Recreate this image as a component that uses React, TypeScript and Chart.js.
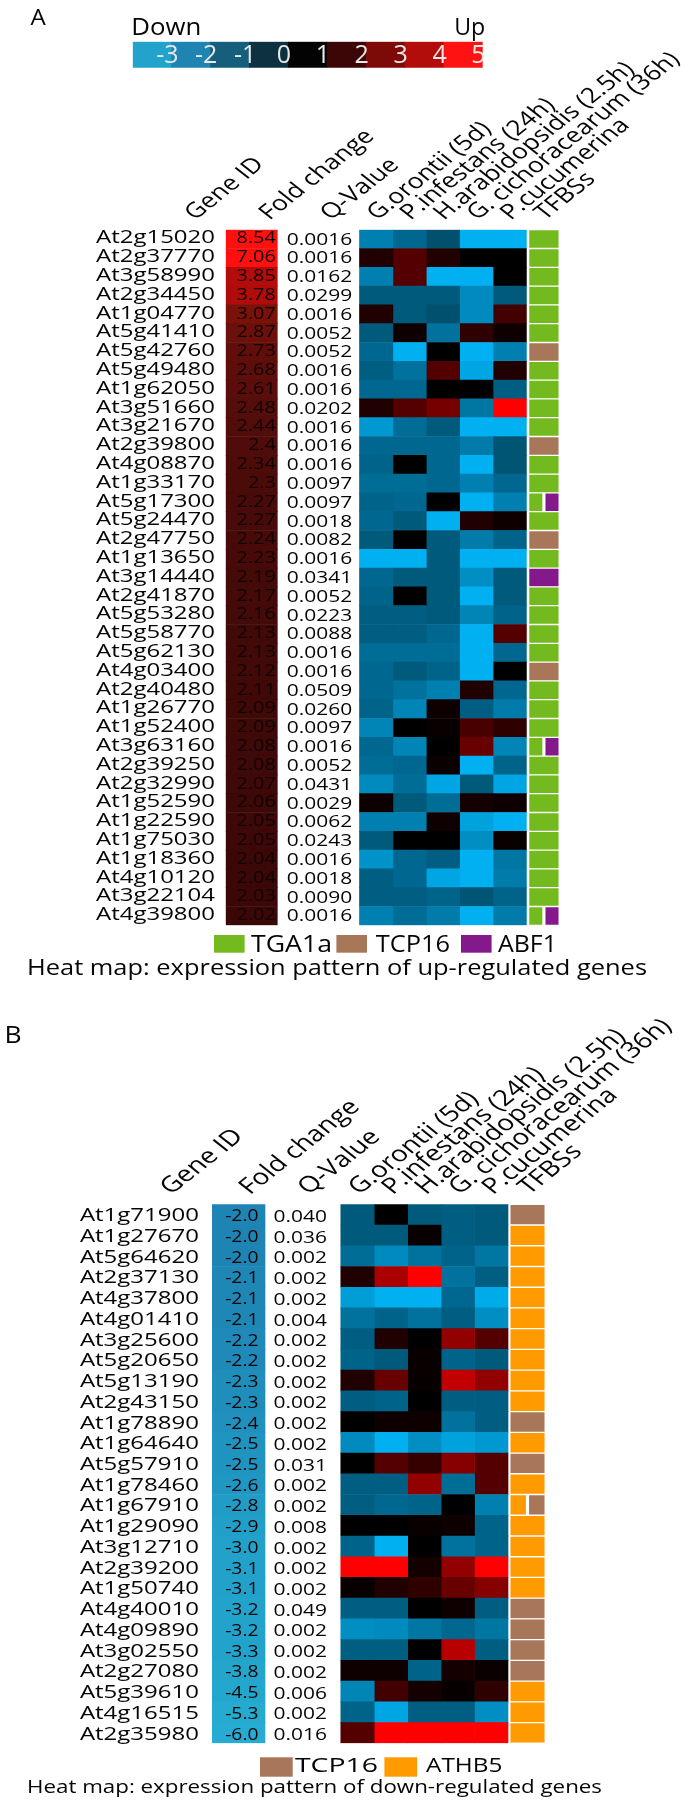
import React, { useEffect, useRef } from 'react';
import { Chart, registerables } from 'chart.js';
Chart.register(...registerables);

const W = 685;
const H = 1804;
const FONT = '"Open Sans", "Noto Sans", sans-serif';
const INK = '#050505';

// ---------------- colour bar ----------------
const colorbarTicks = [-3, -2, -1, 0, 1, 2, 3, 4, 5];
const colorbarColors = ['#22a3cc', '#1e85b2', '#155f7c', '#0e3140', '#030303', '#3c0506', '#7e0a08', '#b20d0b', '#ff1212'];

// ---------------- shared ----------------
const conditions = ['G.orontii (5d)', 'P.infestans (24h)', 'H.arabidopsidis (2.5h)', 'G. cichoracearum (36h)', 'P.cucumerina'];
const motifNames: Record<string, string> = { G: 'TGA1a', T: 'TCP16', A: 'ABF1', O: 'ATHB5' };
const motifColors: Record<string, string> = { TGA1a: '#72ba1e', TCP16: '#a8775a', ABF1: '#84198c', ATHB5: '#ff9a00' };

// ---------------- panel A : up-regulated ----------------
const genesA = ['At2g15020', 'At2g37770', 'At3g58990', 'At2g34450', 'At1g04770', 'At5g41410', 'At5g42760', 'At5g49480', 'At1g62050', 'At3g51660', 'At3g21670', 'At2g39800', 'At4g08870', 'At1g33170', 'At5g17300', 'At5g24470', 'At2g47750', 'At1g13650', 'At3g14440', 'At2g41870', 'At5g53280', 'At5g58770', 'At5g62130', 'At4g03400', 'At2g40480', 'At1g26770', 'At1g52400', 'At3g63160', 'At2g39250', 'At2g32990', 'At1g52590', 'At1g22590', 'At1g75030', 'At1g18360', 'At4g10120', 'At3g22104', 'At4g39800'];
const foldA = [8.54, 7.06, 3.85, 3.78, 3.07, 2.87, 2.73, 2.68, 2.61, 2.48, 2.44, 2.4, 2.34, 2.3, 2.27, 2.27, 2.24, 2.23, 2.19, 2.17, 2.16, 2.13, 2.13, 2.12, 2.11, 2.09, 2.09, 2.08, 2.08, 2.07, 2.06, 2.05, 2.05, 2.04, 2.04, 2.03, 2.02];
const qA = [0.0016, 0.0016, 0.0162, 0.0299, 0.0016, 0.0052, 0.0052, 0.0016, 0.0016, 0.0202, 0.0016, 0.0016, 0.0016, 0.0097, 0.0097, 0.0018, 0.0082, 0.0016, 0.0341, 0.0052, 0.0223, 0.0088, 0.0016, 0.0016, 0.0509, 0.0260, 0.0097, 0.0016, 0.0052, 0.0431, 0.0029, 0.0062, 0.0243, 0.0016, 0.0018, 0.0090, 0.0016];
const goA = [-2, 1, -2, -1.2, 1, -1.2, -1.5, -1.3, -1.5, 1, -2.5, -1.5, -1.4, -1.6, -1.4, -1.5, -1.2, -3, -1.5, -1.4, -1.3, -1.3, -1.6, -1.5, -1.5, -1.4, -2.1, -1.5, -1.6, -2.2, 0.5, -2, -1.2, -2.4, -1.3, -1.3, -2];
const piA = [-1.5, 2, 2, -1.2, -1.2, 0.5, -3, -1.7, -1.5, 2, -1.6, -1.5, 0, -1.6, -1.5, -1.2, 0, -3, -1.2, 0, -1.3, -1.3, -1.6, -1.2, -1.7, -2.1, 0, -2.1, -1.5, -1.6, -1.2, -2, 0, -1.5, -1.5, -1.3, -1.6];
const haA = [-1, 1, -3, -1.2, -1, -1.7, 0, 2, 0, 2.7, -1.2, -1.5, -1.5, -1.5, 0, -3, -1.2, -1.2, -1.2, -1.2, -1.2, -1.5, -1.6, -1.4, -2, 0.5, 0.3, 0, 0.4, -2.8, -1.6, 0.5, 0, -1.3, -2.8, -1.4, -1.9];
const gcA = [-3, 0, -3, -2.2, -2.2, 1.3, -3, -2.8, 0, -1.8, -3, -1.9, -3, -2, -3, 1, -1.9, -3, -2.3, -3, -2.1, -3, -3, -3, 1, -1.3, 1.8, 2.5, -3, -1.2, 0.7, -2.7, -2.3, -3, -3, -1.1, -3];
const pcA = [-3, 0, 0, -1.2, 1.7, 0.5, -2, 1, -1.3, 5, -3, -1.1, -1.1, -1.5, -2, 0.5, -1.4, -3, -1.2, -1.2, -1.4, 2, -1.5, 0, -1.5, -1.9, 1.3, -2.1, -1.4, -2.8, 0.5, -3, 0.4, -1.8, -1.9, -1.4, -1.9];
const tfbsA = ['G', 'G', 'G', 'G', 'G', 'G', 'T', 'G', 'G', 'G', 'G', 'T', 'G', 'G', 'GA', 'G', 'T', 'G', 'A', 'G', 'G', 'G', 'G', 'T', 'G', 'G', 'G', 'GA', 'G', 'G', 'G', 'G', 'G', 'G', 'G', 'G', 'GA'];
const legendA = ['TGA1a', 'TCP16', 'ABF1'];
const captionA = 'Heat map: expression pattern of up-regulated genes';

// ---------------- panel B : down-regulated ----------------
const genesB = ['At1g71900', 'At1g27670', 'At5g64620', 'At2g37130', 'At4g37800', 'At4g01410', 'At3g25600', 'At5g20650', 'At5g13190', 'At2g43150', 'At1g78890', 'At1g64640', 'At5g57910', 'At1g78460', 'At1g67910', 'At1g29090', 'At3g12710', 'At2g39200', 'At1g50740', 'At4g40010', 'At4g09890', 'At3g02550', 'At2g27080', 'At5g39610', 'At4g16515', 'At2g35980'];
const foldB = [-2.0, -2.0, -2.0, -2.1, -2.1, -2.1, -2.2, -2.2, -2.3, -2.3, -2.4, -2.5, -2.5, -2.6, -2.8, -2.9, -3.0, -3.1, -3.1, -3.2, -3.2, -3.3, -3.8, -4.5, -5.3, -6.0];
const qB = [0.040, 0.036, 0.002, 0.002, 0.002, 0.004, 0.002, 0.002, 0.002, 0.002, 0.002, 0.002, 0.031, 0.002, 0.002, 0.008, 0.002, 0.002, 0.002, 0.049, 0.002, 0.002, 0.002, 0.006, 0.002, 0.016];
const goB = [-1.2, -1.2, -1.6, 1, -2.6, -1.7, -1.3, -1.4, 1, -1.3, 0, -2.2, 0, -1.3, -1.3, 0, -1.4, 5, 0.3, -1.3, -2.3, -1.3, 0.5, -2.1, -1.4, 2];
const piB = [0, -1.2, -2.2, 3.6, -3, -1.4, 1, -1.2, 2.5, -1.4, 0.5, -3, 2, -1.3, -1.5, 0, -3, 5, 1, -1.3, -2.2, -1.3, 0.5, 1.7, -2.8, 5];
const haB = [-1.2, 0.3, -1.7, 5, -3, -1.7, 0, 0.3, 0.3, 0, 0.5, -2.3, 1.5, 3.2, -1.4, 0.3, 0, 0.7, 1.3, 0, -1.8, 0, -1.4, 0.7, -1.3, 5];
const gcB = [-1.3, -1.3, -1.4, -1.7, -1.5, -1.3, 3.2, -1.4, 4, -1.3, -1.7, -2.7, 3, -1.6, 0, 0.5, -1.7, 3.2, 2.5, 0.5, -1.5, 3.8, 0.7, 0.3, -1.3, 5];
const pcB = [-1.2, -1.2, -1.8, -1.3, -2.9, -2.3, 2, -1.2, 3.2, -1.3, -1.3, -2.5, 2, 2, -2, -1.4, -1.4, 5, 3, -1.3, -1.8, -1.3, 0.4, 1.3, -2.3, 5];
const tfbsB = ['T', 'O', 'O', 'O', 'O', 'O', 'O', 'O', 'O', 'O', 'T', 'O', 'T', 'O', 'OT', 'O', 'O', 'O', 'O', 'T', 'T', 'T', 'T', 'O', 'O', 'O'];
const legendB = ['TCP16', 'ATHB5'];
const captionB = 'Heat map: expression pattern of down-regulated genes';

// ---------------- colour scales ----------------
type Stop = [number, number[]];
const HEAT_STOPS: Stop[] = [
  [-3, [0, 176, 240]], [-2.5, [0, 152, 208]], [-2, [0, 128, 176]], [-1.5, [0, 104, 144]], [-1, [0, 80, 110]],
  [0, [0, 0, 0]], [0.5, [14, 0, 0]], [1, [32, 0, 0]], [1.5, [55, 0, 0]], [2, [85, 0, 0]], [2.5, [105, 0, 0]],
  [3, [135, 0, 0]], [4, [195, 0, 0]], [5, [255, 0, 0]],
];
const FOLD_STOPS: Stop[] = [
  [-6, [38, 172, 210]], [-3, [34, 162, 202]], [-2.5, [32, 148, 192]], [-2, [30, 132, 180]],
  [2, [58, 8, 7]], [2.4, [80, 12, 10]], [2.7, [95, 14, 10]], [3.07, [122, 18, 10]], [3.8, [176, 12, 10]], [5, [255, 16, 16]],
];
function lerpColor(stops: Stop[], v: number): string {
  const rgb = (c: number[]) => `rgb(${c[0]},${c[1]},${c[2]})`;
  if (v <= stops[0][0]) return rgb(stops[0][1]);
  for (let i = 1; i < stops.length; i++) {
    if (v <= stops[i][0]) {
      const [v0, c0] = stops[i - 1];
      const [v1, c1] = stops[i];
      const t = (v - v0) / (v1 - v0);
      return rgb(c0.map((c, k) => Math.round(c + (c1[k] - c) * t)));
    }
  }
  return rgb(stops[stops.length - 1][1]);
}

// ---------------- text helper ----------------
type TOpt = { size: number; sx?: number; fit?: number; align?: CanvasTextAlign; color?: string; rot?: number };
function drawText(ctx: CanvasRenderingContext2D, text: string, x: number, y: number, o: TOpt) {
  ctx.save();
  ctx.font = `${o.size}px ${FONT}`;
  let sx = o.sx ?? 1;
  if (o.fit) sx = o.fit / ctx.measureText(text).width;
  ctx.translate(x, y);
  ctx.scale(sx, 1);
  if (o.rot) ctx.rotate(o.rot);
  ctx.fillStyle = o.color ?? INK;
  ctx.textAlign = o.align ?? 'left';
  ctx.textBaseline = 'alphabetic';
  ctx.fillText(text, 0, 0);
  ctx.restore();
}

// ---------------- layouts (page pixels) ----------------
const LAYOUT_A = {
  tableTop: 229.7, rowH: 18.8,
  geneRight: 215, foldL: 225.7, foldR: 277.3, qL: 286.7, heatL: 359.5, heatR: 526.4, tfL: 528.6, tfR: 559.2,
  geneFont: 17.5, geneSx: 1.37, geneDy: 4.2,
  foldFont: 15.5, foldSx: 1.28, foldDy: 4.2, foldPad: 1.5,
  qFont: 16.5, qSx: 1.27, qDy: 5.5, qDec: 4,
  headFont: 21, headSx: 1.27, headDy: -9, headGeneX: 195, headFoldX: 269.5, headQX: 330.7, headHeatOff: 1,
  legendTop: 935, legendH: 17.7, legendFont: 24, legendBase: 951.7,
  legendSq: [214, 336.4, 461], legendSqW: 30.6, legendTx: [251, 375.7, 498], legendTw: [81, 74.3, 59],
  captionX: 27, captionW: 620, captionBase: 975, captionFont: 21,
  label: 'A', labelX: 30.6, labelBase: 25, labelFont: 21,
};
const LAYOUT_B = {
  tableTop: 1204.3, rowH: 20.73,
  geneRight: 199, foldL: 212, foldR: 265, qL: 273.5, heatL: 340.8, heatR: 508, tfL: 509.8, tfR: 545.2,
  geneFont: 17.8, geneSx: 1.35, geneDy: 6.6,
  foldFont: 16.5, foldSx: 1.17, foldDy: 6.6, foldPad: 6.5,
  qFont: 16.5, qSx: 1.27, qDy: 7.2, qDec: 3,
  headFont: 22, headSx: 1.27, headDy: -9, headGeneX: 171, headFoldX: 250, headQX: 308.7, headHeatOff: 1.7,
  legendTop: 1757.3, legendH: 19.4, legendFont: 20, legendBase: 1771.7,
  legendSq: [260, 384.4], legendSqW: 32.7, legendTx: [295, 426], legendTw: [83, 76.4],
  captionX: 27, captionW: 575, captionBase: 1793.3, captionFont: 19,
  label: 'B', labelX: 4.4, labelBase: 1043.3, labelFont: 23,
};
type Layout = typeof LAYOUT_A;

type PanelData = {
  genes: string[]; fold: number[]; q: number[]; heat: number[][]; tfbs: string[]; legend: string[]; caption: string;
};

function makePanel(canvas: HTMLCanvasElement, d: PanelData, L: Layout) {
  const cellW = (L.heatR - L.heatL) / conditions.length;
  const u = (px: number) => (px - L.heatL) / cellW; // page px -> column units
  const tfMid = u((L.tfL + L.tfR) / 2);
  const gap = 0.9 / cellW;
  const n = d.genes.length;

  const datasets: any[] = [];
  datasets.push({
    label: 'Fold change',
    data: d.fold.map(() => [u(L.foldL), u(L.foldR)]),
    backgroundColor: d.fold.map((v) => lerpColor(FOLD_STOPS, v)),
  });
  d.heat.forEach((vals, c) => {
    datasets.push({
      label: conditions[c],
      data: vals.map(() => [c, c + 1]),
      backgroundColor: vals.map((v) => lerpColor(HEAT_STOPS, v)),
    });
  });
  datasets.push({
    label: 'TFBSs',
    data: d.tfbs.map((code) => (code.length === 1 ? [u(L.tfL), u(L.tfR)] : [u(L.tfL), tfMid - gap])),
    backgroundColor: d.tfbs.map((code) => motifColors[motifNames[code[0]]]),
    borderColor: 'rgba(255,255,255,0.55)',
    borderWidth: 1,
  });
  datasets.push({
    label: 'TFBSs 2',
    data: d.tfbs.map((code) => (code.length === 2 ? [tfMid + gap, u(L.tfR)] : null)),
    backgroundColor: d.tfbs.map((code) => (code.length === 2 ? motifColors[motifNames[code[1]]] : 'transparent')),
    borderColor: 'rgba(255,255,255,0.55)',
    borderWidth: 1,
  });
  datasets.forEach((ds) => {
    ds.grouped = false;
    ds.categoryPercentage = 1;
    ds.barPercentage = 1;
    ds.borderSkipped = false;
    if (ds.borderWidth === undefined) ds.borderWidth = 0;
  });

  const textPlugin = {
    id: 'panelText' + L.label,
    afterDatasetsDraw(chart: any) {
      const ctx: CanvasRenderingContext2D = chart.ctx;
      const xs = chart.scales.x;
      const ys = chart.scales.y;
      const X = (px: number) => xs.getPixelForValue(u(px));
      // row texts
      for (let i = 0; i < n; i++) {
        const yc = ys.getPixelForValue(i);
        drawText(ctx, d.genes[i], X(L.geneRight), yc + L.geneDy, { size: L.geneFont, sx: L.geneSx, align: 'right' });
        const fv = L.qDec === 4 ? String(d.fold[i]) : d.fold[i].toFixed(1);
        drawText(ctx, fv, X(L.foldR - L.foldPad), yc + L.foldDy, { size: L.foldFont, sx: L.foldSx, align: 'right', color: '#120303' });
        drawText(ctx, d.q[i].toFixed(L.qDec), X(L.qL), yc + L.qDy, { size: L.qFont, sx: L.qSx });
      }
      // rotated headers
      const top = chart.chartArea.top + L.headDy;
      const rot = -Math.PI / 4;
      const ho = { size: L.headFont, sx: L.headSx, rot };
      drawText(ctx, 'Gene ID', X(L.headGeneX), top, ho);
      drawText(ctx, 'Fold change', X(L.headFoldX), top, ho);
      drawText(ctx, 'Q-Value', X(L.headQX), top, ho);
      conditions.forEach((c, k) => {
        drawText(ctx, c, xs.getPixelForValue(k + 0.5) + L.headHeatOff, top, ho);
      });
      drawText(ctx, 'TFBSs', X((L.tfL + L.tfR) / 2) + L.headHeatOff, top, ho);
      // legend
      d.legend.forEach((name, k) => {
        ctx.fillStyle = motifColors[name];
        ctx.fillRect(L.legendSq[k], L.legendTop, L.legendSqW, L.legendH);
        drawText(ctx, name, L.legendTx[k], L.legendBase, { size: L.legendFont, fit: L.legendTw[k] });
      });
      drawText(ctx, d.caption, L.captionX, L.captionBase, { size: L.captionFont, fit: L.captionW });
      drawText(ctx, L.label, L.labelX, L.labelBase, { size: L.labelFont, sx: 1.15 });
    },
  };

  const tableBottom = L.tableTop + n * L.rowH;
  return new Chart(canvas, {
    type: 'bar',
    data: { labels: d.genes, datasets },
    options: {
      indexAxis: 'y',
      animation: false,
      responsive: false,
      devicePixelRatio: 1,
      events: [],
      layout: { padding: { left: L.foldL, right: W - L.tfR, top: L.tableTop, bottom: H - tableBottom } },
      scales: {
        x: { type: 'linear', display: false, min: u(L.foldL), max: u(L.tfR) },
        y: { type: 'category', display: false },
      },
      plugins: { legend: { display: false }, tooltip: { enabled: false }, title: { display: false } },
    } as any,
    plugins: [textPlugin],
  });
}

function makeColorbar(canvas: HTMLCanvasElement) {
  const CB = { left: 132.7, right: 482.7, top: 41.7, bottom: 67.7, labelBase: 63.3, labelFont: 25 };
  const plugin = {
    id: 'cbText',
    afterDatasetsDraw(chart: any) {
      const ctx: CanvasRenderingContext2D = chart.ctx;
      const xs = chart.scales.x;
      const segW = xs.getPixelForValue(1) - xs.getPixelForValue(0);
      colorbarTicks.forEach((t, i) => {
        drawText(ctx, String(t), xs.getPixelForValue(i) + 0.39 * segW, CB.labelBase, { size: CB.labelFont, align: 'center', color: '#e8e8e8' });
      });
      drawText(ctx, 'Down', CB.left - 1.5, 35, { size: 24, fit: 70 });
      drawText(ctx, 'Up', CB.right + 2.5, 35, { size: 24, fit: 31, align: 'right' });
    },
  };
  return new Chart(canvas, {
    type: 'bar',
    data: {
      labels: colorbarTicks.map(String),
      datasets: [{ data: colorbarTicks.map(() => 1), backgroundColor: colorbarColors, categoryPercentage: 1, barPercentage: 1, borderWidth: 0 }],
    },
    options: {
      animation: false,
      responsive: false,
      devicePixelRatio: 1,
      events: [],
      layout: { padding: { left: CB.left, right: W - CB.right, top: CB.top, bottom: H - CB.bottom } },
      scales: { x: { type: 'category', display: false }, y: { display: false, min: 0, max: 1 } },
      plugins: { legend: { display: false }, tooltip: { enabled: false } },
    } as any,
    plugins: [plugin],
  });
}

export default function App() {
  const cbRef = useRef<HTMLCanvasElement>(null);
  const aRef = useRef<HTMLCanvasElement>(null);
  const bRef = useRef<HTMLCanvasElement>(null);
  useEffect(() => {
    document.body.style.margin = '0';
    const charts = [
      makeColorbar(cbRef.current!),
      makePanel(aRef.current!, { genes: genesA, fold: foldA, q: qA, heat: [goA, piA, haA, gcA, pcA], tfbs: tfbsA, legend: legendA, caption: captionA }, LAYOUT_A),
      makePanel(bRef.current!, { genes: genesB, fold: foldB, q: qB, heat: [goB, piB, haB, gcB, pcB], tfbs: tfbsB, legend: legendB, caption: captionB }, LAYOUT_B as Layout),
    ];
    return () => charts.forEach((c) => c.destroy());
  }, []);
  const st: React.CSSProperties = { position: 'absolute', left: 0, top: 0 };
  return (
    <div style={{ position: 'relative', width: W, height: H, background: '#fff', overflow: 'hidden' }}>
      <canvas ref={cbRef} width={W} height={H} style={st} />
      <canvas ref={aRef} width={W} height={H} style={st} />
      <canvas ref={bRef} width={W} height={H} style={st} />
    </div>
  );
}
